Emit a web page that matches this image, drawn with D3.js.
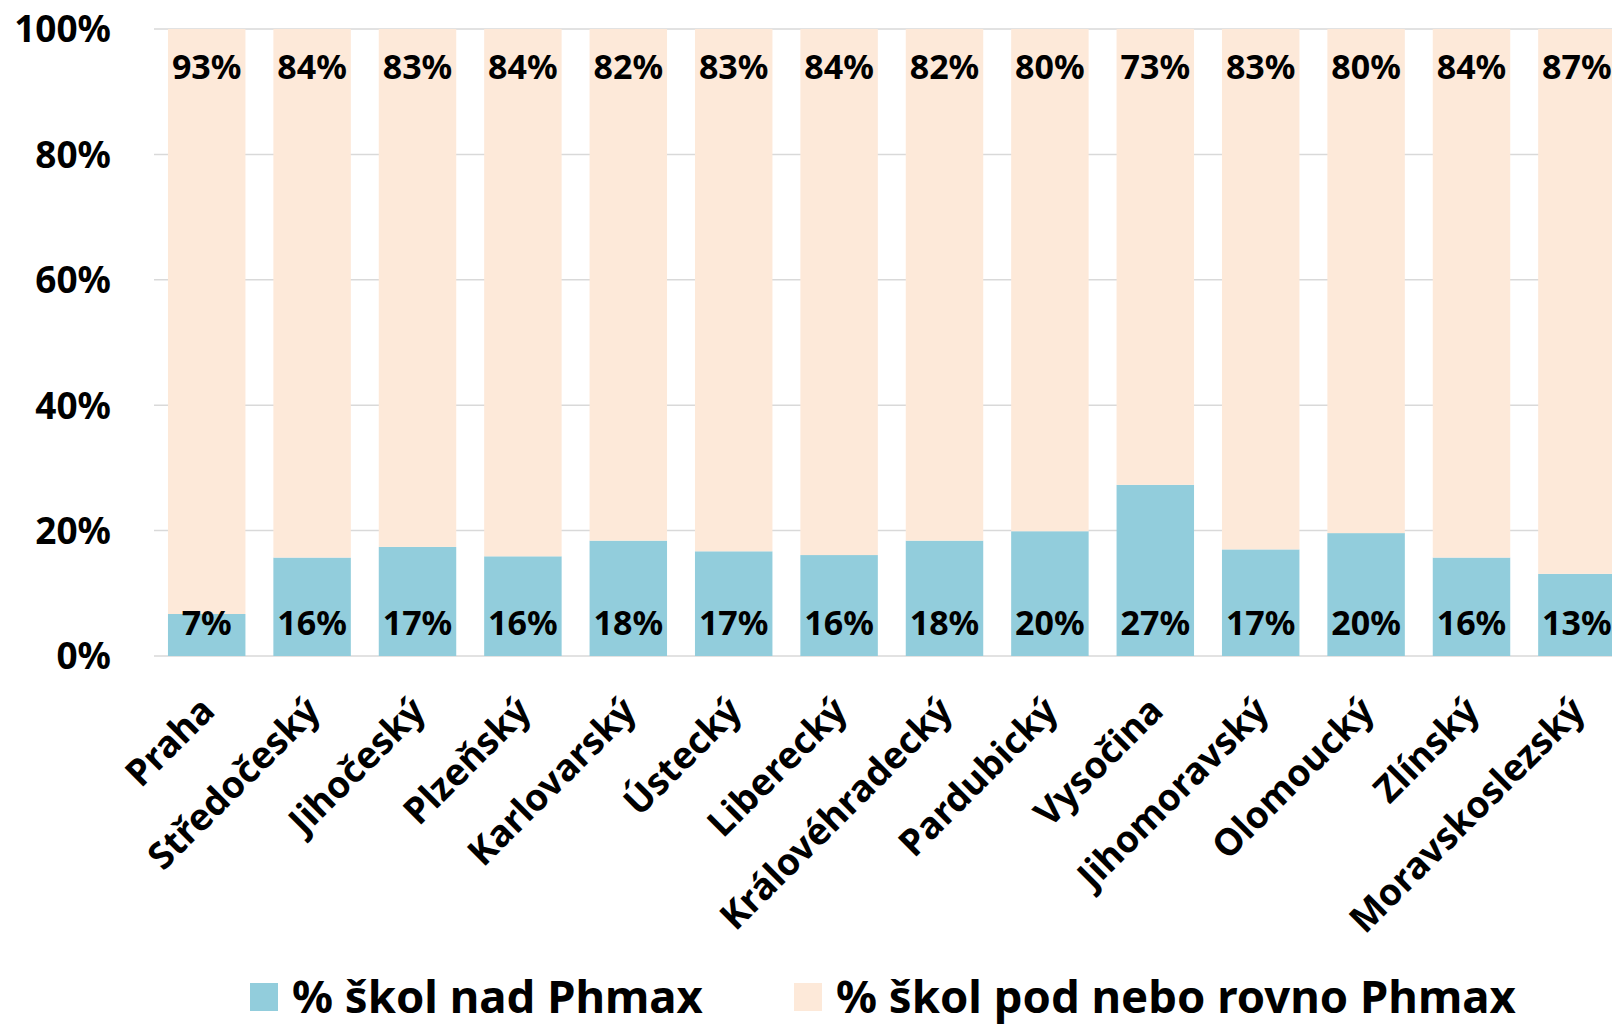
<!DOCTYPE html>
<html>
<head>
<meta charset="utf-8">
<script src="https://cdn.jsdelivr.net/npm/d3@7"></script>
<style>
  html, body { margin: 0; padding: 0; background: #fff; overflow: hidden; }
  svg { display: block; font-family: "Noto Sans", "Open Sans", sans-serif; font-weight: bold; }
</style>
</head>
<body>
<script>
const regions = ["Praha", "Středočeský", "Jihočeský", "Plzeňský", "Karlovarský", "Ústecký",
  "Liberecký", "Královéhradecký", "Pardubický", "Vysočina", "Jihomoravský", "Olomoucký",
  "Zlínský", "Moravskoslezský"];
// % škol nad Phmax
const above = [6.7, 15.7, 17.4, 15.9, 18.4, 16.7, 16.1, 18.4, 19.9, 27.3, 17.0, 19.6, 15.7, 13.1];
// % škol pod nebo rovno Phmax
const below = [93.3, 84.3, 82.6, 84.1, 81.6, 83.3, 83.9, 81.6, 80.1, 72.7, 83.0, 80.4, 84.3, 86.9];
const yTicks = [0, 20, 40, 60, 80, 100];
const seriesNames = ["% škol nad Phmax", "% škol pod nebo rovno Phmax"];
const colors = ["#92CDDC", "#FDE9D9"];

const width = 1612;
const height = 1027;
const margin = { top: 29, left: 154, bottom: 371 };
const step = 105.4;
const plotH = height - margin.top - margin.bottom;

const svg = d3.select("body").append("svg")
  .attr("width", width)
  .attr("height", height);

const x = d3.scaleBand()
  .domain(regions)
  .range([margin.left, margin.left + step * regions.length])
  .paddingInner(0.265)
  .paddingOuter(0.1325);

const y = d3.scaleLinear()
  .domain([0, 100])
  .range([margin.top + plotH, margin.top]);

// gridlines
svg.append("g")
  .selectAll("line")
  .data(yTicks)
  .join("line")
  .attr("x1", margin.left)
  .attr("x2", width + 50)
  .attr("y1", d => y(d))
  .attr("y2", d => y(d))
  .attr("stroke", "#D9D9D9")
  .attr("stroke-width", 1.5);

// y tick labels
svg.append("g")
  .selectAll("text")
  .data(yTicks)
  .join("text")
  .attr("x", 111)
  .attr("y", d => y(d))
  .attr("dy", "0.36em")
  .attr("text-anchor", "end")
  .attr("font-size", 37)
  .text(d => d + "%");

const rows = regions.map((r, i) => ({ region: r, above: above[i], below: below[i] }));
const stack = d3.stack().keys(["above", "below"])(rows);

const layers = svg.append("g")
  .selectAll("g")
  .data(stack)
  .join("g")
  .attr("fill", (d, i) => colors[i]);

layers.selectAll("rect")
  .data(d => d)
  .join("rect")
  .attr("x", d => x(d.data.region))
  .attr("width", x.bandwidth())
  .attr("y", d => y(d[1]))
  .attr("height", d => y(d[0]) - y(d[1]));

// data labels
const fmt = v => Math.round(v) + "%";
svg.append("g")
  .selectAll("text")
  .data(rows)
  .join("text")
  .attr("x", d => x(d.region) + x.bandwidth() / 2)
  .attr("y", y(0) - 21)
  .attr("text-anchor", "middle")
  .attr("font-size", 34)
  .text(d => fmt(d.above));

svg.append("g")
  .selectAll("text")
  .data(rows)
  .join("text")
  .attr("x", d => x(d.region) + x.bandwidth() / 2)
  .attr("y", y(100) + 50)
  .attr("text-anchor", "middle")
  .attr("font-size", 34)
  .text(d => fmt(d.below));

// x labels
svg.append("g")
  .selectAll("text")
  .data(regions)
  .join("text")
  .attr("transform", d => `translate(${x(d) + x.bandwidth() / 2 + 10},${y(0) + 57}) rotate(-45)`)
  .attr("text-anchor", "end")
  .attr("font-size", 37)
  .text(d => d);

// legend
const legendX = [250, 794];
const legend = svg.append("g")
  .selectAll("g")
  .data(seriesNames)
  .join("g")
  .attr("transform", (d, i) => `translate(${legendX[i]},997)`);

legend.append("rect")
  .attr("x", 0)
  .attr("y", -14)
  .attr("width", 28)
  .attr("height", 28)
  .attr("fill", (d, i) => colors[i]);

legend.append("text")
  .attr("x", 42)
  .attr("dy", "0.36em")
  .attr("font-size", 45.5)
  .text(d => d);
</script>
</body>
</html>
